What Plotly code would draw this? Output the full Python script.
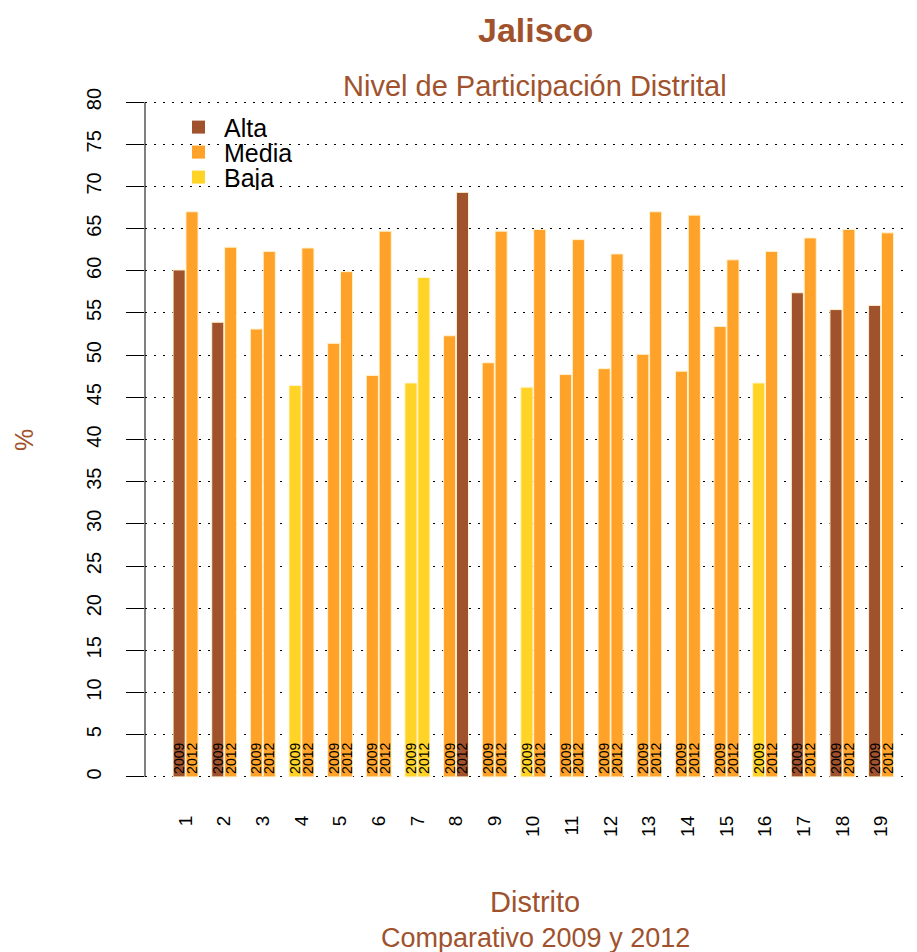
import plotly.graph_objects as go

# ---------------- data ----------------
distritos = ["1", "2", "3", "4", "5", "6", "7", "8", "9", "10",
             "11", "12", "13", "14", "15", "16", "17", "18", "19"]
part_2009 = [60.1, 53.9, 53.1, 46.4, 51.4, 47.6, 46.7, 52.3, 49.1, 46.2,
             47.7, 48.4, 50.1, 48.1, 53.4, 46.7, 57.4, 55.4, 55.9]
part_2012 = [67.0, 62.8, 62.3, 62.7, 59.9, 64.7, 59.2, 69.3, 64.7, 64.9,
             63.7, 62.0, 67.0, 66.6, 61.3, 62.3, 63.9, 64.9, 64.5]
nivel_2009 = ["Alta", "Alta", "Media", "Baja", "Media", "Media", "Baja", "Media", "Media", "Baja",
              "Media", "Media", "Media", "Media", "Media", "Baja", "Alta", "Alta", "Alta"]
nivel_2012 = ["Media", "Media", "Media", "Media", "Media", "Media", "Baja", "Alta", "Media", "Media",
              "Media", "Media", "Media", "Media", "Media", "Media", "Media", "Media", "Media"]
niveles = ["Alta", "Media", "Baja"]
anios = ["2009", "2012"]
y_ticks = [0, 5, 10, 15, 20, 25, 30, 35, 40, 45, 50, 55, 60, 65, 70, 75, 80]

colores = {"Alta": "#A0522D", "Media": "#FFA229", "Baja": "#FFD426"}
borde = "#FFF3D0"
titulo_color = "#A0522D"
FONT = "Liberation Sans, Arial, Helvetica, sans-serif"

fig = go.Figure()
for anio, vals, niv in [(anios[0], part_2009, nivel_2009), (anios[1], part_2012, nivel_2012)]:
    fig.add_trace(go.Bar(
        x=distritos, y=vals, name=anio,
        marker=dict(color=[colores[n] for n in niv], line=dict(color=borde, width=1)),
        text=[anio] * len(vals), textposition="inside", insidetextanchor="start",
        textangle=-90, textfont=dict(size=14, color="black", family=FONT),
        showlegend=False, hoverinfo="x+y",
    ))

# page offset (body margin) and plot-area geometry in page pixels
OFF = 8
W, H = 917 - OFF, 952 - OFF
YMIN, YMAX = -0.25, 80.25
PPU = (777 - 102) / 80.0
L = 145
R = 917
T = 102 - (YMAX - 80) * PPU
B = 777 + (0 - YMIN) * PPU

def px(x):
    return (x - L) / (R - L)
def py(y):
    return (B - y) / (B - T)

annotations = [
    dict(text="<b>Jalisco</b>", x=px(535), y=py(30), font=dict(size=34, color=titulo_color)),
    dict(text="Nivel de Participación Distrital", x=px(535), y=py(86), font=dict(size=29, color=titulo_color)),
    dict(text="Distrito", x=px(535), y=py(902), font=dict(size=29, color=titulo_color)),
    dict(text="Comparativo 2009 y 2012", x=px(535), y=py(938), font=dict(size=27, color=titulo_color)),
    dict(text="%", x=px(24), y=py(440), textangle=-90, font=dict(size=25, color=titulo_color)),
]
for a in annotations:
    a.update(xref="paper", yref="paper", showarrow=False, xanchor="center", yanchor="middle")
    a["font"]["family"] = FONT

# legend (drawn as layout decoration to match the compact R legend spacing)
shapes = []
for i, n in enumerate(niveles):
    cy = 127 + 25 * i
    shapes.append(dict(type="rect", xref="paper", yref="paper",
                       x0=px(192), x1=px(205), y0=py(cy + 6.5), y1=py(cy - 6.5),
                       fillcolor=colores[n], line=dict(width=0)))
    annotations.append(dict(text=n, xref="paper", yref="paper", x=px(223), y=py(cy + 1),
                            xanchor="left", yanchor="middle", showarrow=False,
                            height=24, valign="middle", borderpad=0,
                            font=dict(size=25, color="black", family=FONT)))

# y axis line spanning only the tick range (0..80), as in the original
shapes.append(dict(type="line", xref="paper", yref="y", x0=0, x1=0,
                   y0=y_ticks[0], y1=y_ticks[-1], line=dict(color="black", width=1)))

fig.update_layout(
    width=W, height=H,
    margin=dict(l=L - OFF, r=0, t=T - OFF, b=H - (B - OFF), pad=0),
    plot_bgcolor="white", paper_bgcolor="white",
    font=dict(family=FONT, color="black"),
    barmode="group", bargap=1/3, bargroupgap=0.06,
    uniformtext=dict(minsize=14, mode="show"),
    annotations=annotations, shapes=shapes,
    xaxis=dict(type="category", range=[-1.05, 18.93], tickangle=-90,
               ticks="", showgrid=False, showline=False, zeroline=False,
               tickfont=dict(size=19), ticklabelstandoff=32),
    yaxis=dict(range=[YMIN, YMAX], tickvals=y_ticks, tickangle=-90,
               ticks="outside", ticklen=18, tickcolor="black", tickwidth=1,
               showline=False, zeroline=False,
               showgrid=True, gridcolor="#000000", gridwidth=1, griddash="2px,7px",
               tickfont=dict(size=20), ticklabelstandoff=17),
)

fig.write_html("out.html")
